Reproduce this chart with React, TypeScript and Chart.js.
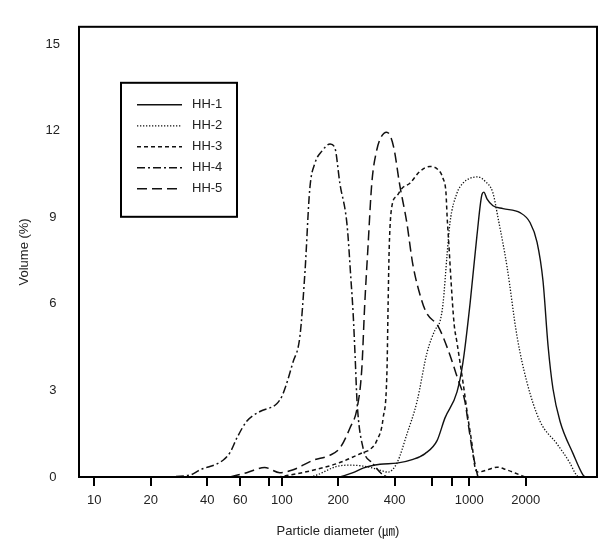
import React, { useEffect, useRef } from 'react';
import { Chart, registerables } from 'chart.js';

Chart.register(...registerables);

const SERIES_NAMES = ['HH-1', 'HH-2', 'HH-3', 'HH-4', 'HH-5'];

const HH1_X = [204, 240, 271, 334, 411, 501, 581, 673, 741, 860, 925, 1009, 1099, 1169, 1195, 1242, 1337, 1513, 1864, 2107, 2297, 2472, 2630, 2795, 3046, 3575, 4036, 4140];
const HH1_Y = [0, 0.15, 0.31, 0.44, 0.48, 0.61, 0.81, 1.26, 2.04, 2.95, 3.97, 6.0, 8.38, 9.8, 9.87, 9.64, 9.4, 9.3, 9.16, 8.82, 8.14, 6.79, 4.55, 3.05, 1.93, 0.81, 0.07, 0];

const HH2_X = [142, 154, 197, 231, 270, 306, 340, 368, 411, 465, 526, 595, 656, 698, 724, 761, 789, 860, 925, 1009, 1112, 1213, 1337, 1422, 1588, 1795, 2028, 2382, 2932, 3442, 3662, 3800];
const HH2_Y = [0, 0.07, 0.37, 0.41, 0.38, 0.31, 0.22, 0.17, 0.48, 1.49, 2.61, 4.31, 5.09, 5.4, 6.0, 7.7, 8.82, 9.84, 10.18, 10.35, 10.4, 10.25, 9.84, 8.99, 7.3, 4.89, 3.29, 1.93, 1.15, 0.48, 0.14, 0];

const HH3_X = [95, 111, 150, 204, 271, 295, 321, 347, 364, 369, 374, 387, 411, 437, 482, 545, 617, 681, 724, 751, 761, 780, 799, 830, 860, 925, 984, 1033, 1072, 1112, 1250, 1405, 1580, 1754, 1982];
const HH3_Y = [0, 0.07, 0.25, 0.5, 0.85, 0.95, 1.26, 2.04, 3.73, 6.0, 7.94, 9.4, 9.74, 10.0, 10.18, 10.59, 10.76, 10.65, 10.35, 9.84, 9.06, 7.94, 6.79, 5.3, 4.65, 3.29, 2.04, 1.15, 0.34, 0.17, 0.25, 0.34, 0.25, 0.14, 0];

const HH4_X = [22.4, 32.4, 36.5, 48.6, 53, 57.7, 65, 76.5, 94, 101, 114.6, 125, 133, 141, 150, 164, 181, 192, 204, 223, 234, 240, 246, 252, 271, 306, 347, 378];
const HH4_Y = [0, 0.07, 0.24, 0.58, 0.85, 1.36, 1.93, 2.27, 2.54, 2.85, 3.97, 4.89, 7.13, 9.98, 10.86, 11.3, 11.54, 11.4, 10.18, 8.72, 6.8, 5.7, 4.2, 2.61, 1.02, 0.47, 0.07, 0];

const HH5_X = [53, 65, 81, 97.6, 114, 147, 180, 204, 231, 252, 267, 277, 288, 302, 321, 340, 362, 380, 398, 424, 464, 500, 558, 593, 681, 770, 869, 948, 1000, 1037, 1090, 1112];
const HH5_Y = [0, 0.15, 0.33, 0.15, 0.24, 0.58, 0.75, 1.0, 1.7, 2.38, 3.73, 6.0, 7.94, 10.18, 11.33, 11.8, 11.95, 11.8, 11.33, 10.18, 8.82, 7.36, 6.11, 5.67, 5.23, 4.41, 3.39, 2.61, 1.59, 0.92, 0.24, 0];

const X_TICKS = [10, 20, 40, 60, 85, 100, 200, 400, 630, 810, 1000, 2000];
const X_LABELED = [10, 20, 40, 60, 100, 200, 400, 1000, 2000];
const Y_TICKS = [0, 3, 6, 9, 12, 15];

const FONT_FAMILY = 'Arial, "Liberation Sans", "Noto Sans CJK KR", sans-serif';

const framePlugin = {
  id: 'frame',
  afterDatasetsDraw(chart: any) {
    const { ctx, chartArea: ca } = chart;
    ctx.save();
    ctx.strokeStyle = '#000';
    ctx.lineWidth = 2;
    ctx.setLineDash([]);
    ctx.strokeRect(ca.left, ca.top, ca.right - ca.left, ca.bottom - ca.top);
    ctx.restore();
  },
};

const boxLegendPlugin = {
  id: 'boxLegend',
  afterDraw(chart: any) {
    const { ctx, chartArea: ca } = chart;
    const x0 = ca.left + 42;
    const y0 = ca.top + 56;
    const w = 116;
    const h = 134;
    ctx.save();
    ctx.fillStyle = '#fff';
    ctx.fillRect(x0, y0, w, h);
    ctx.strokeStyle = '#000';
    ctx.lineWidth = 2;
    ctx.setLineDash([]);
    ctx.strokeRect(x0, y0, w, h);
    ctx.font = '13px ' + FONT_FAMILY;
    ctx.textBaseline = 'middle';
    ctx.textAlign = 'left';
    chart.data.datasets.forEach((ds: any, i: number) => {
      const y = y0 + 22 + i * 21;
      ctx.strokeStyle = ds.borderColor;
      ctx.lineWidth = ds.borderWidth;
      ctx.setLineDash(ds.borderDash || []);
      ctx.beginPath();
      ctx.moveTo(x0 + 16, y);
      ctx.lineTo(x0 + 61, y);
      ctx.stroke();
      ctx.setLineDash([]);
      ctx.fillStyle = '#222';
      ctx.fillText(ds.label, x0 + 71, y);
    });
    ctx.restore();
  },
};

function makeDataset(label: string, xs: number[], ys: number[], dash: number[], width: number) {
  return {
    label,
    data: xs.map((x, i) => ({ x, y: ys[i] })),
    borderColor: '#111',
    borderWidth: width,
    borderDash: dash,
    pointRadius: 0,
    fill: false,
    cubicInterpolationMode: 'monotone' as const,
  };
}

export default function App() {
  const canvasRef = useRef<HTMLCanvasElement | null>(null);

  useEffect(() => {
    if (!canvasRef.current) return;
    const chart = new Chart(canvasRef.current, {
      type: 'line',
      data: {
        datasets: [
          makeDataset(SERIES_NAMES[0], HH1_X, HH1_Y, [], 1.4),
          makeDataset(SERIES_NAMES[1], HH2_X, HH2_Y, [1.3, 1.7], 1.3),
          makeDataset(SERIES_NAMES[2], HH3_X, HH3_Y, [4, 3], 1.5),
          makeDataset(SERIES_NAMES[3], HH4_X, HH4_Y, [8, 3, 2, 3], 1.5),
          makeDataset(SERIES_NAMES[4], HH5_X, HH5_Y, [10, 5], 1.5),
        ],
      },
      options: {
        animation: false,
        responsive: false,
        maintainAspectRatio: false,
        layout: { padding: { top: 17, right: 15, left: 0, bottom: 0 } },
        plugins: {
          legend: { display: false },
          tooltip: { enabled: false },
        },
        scales: {
          x: {
            type: 'logarithmic',
            min: 8.29,
            max: 4797,
            bounds: 'data',
            afterBuildTicks: (scale: any) => {
              scale.ticks = X_TICKS.map((v) => ({ value: v }));
            },
            afterFit: (scale: any) => {
              scale.height = 73;
            },
            grid: {
              display: true,
              drawOnChartArea: false,
              drawTicks: true,
              tickLength: 9,
              color: '#000',
              lineWidth: 2,
            },
            border: { display: false },
            ticks: {
              autoSkip: false,
              maxRotation: 0,
              minRotation: 0,
              padding: 7,
              color: '#222',
              font: { family: FONT_FAMILY, size: 13 },
              callback: (value: any) => (X_LABELED.includes(Number(value)) ? String(value) : ''),
            },
            title: {
              display: true,
              text: 'Particle diameter (㎛)',
              color: '#222',
              font: { family: FONT_FAMILY, size: 13 },
              padding: { top: 0, bottom: 11 },
            },
          },
          y: {
            type: 'linear',
            min: 0,
            max: 15.6,
            bounds: 'data',
            afterBuildTicks: (scale: any) => {
              scale.ticks = Y_TICKS.map((v) => ({ value: v }));
            },
            afterFit: (scale: any) => {
              scale.width = 79;
            },
            grid: { display: false, drawTicks: false },
            border: { display: false },
            ticks: {
              crossAlign: 'center',
              padding: 19,
              color: '#222',
              font: { family: FONT_FAMILY, size: 13 },
            },
            title: {
              display: true,
              text: 'Volume (%)',
              color: '#222',
              font: { family: FONT_FAMILY, size: 13 },
              padding: { top: 17, bottom: 0 },
            },
          },
        },
      },
      plugins: [framePlugin, boxLegendPlugin],
    } as any);
    return () => chart.destroy();
  }, []);

  return (
    <div style={{ position: 'absolute', left: 0, top: 0, width: 612, height: 550, background: '#fff' }}>
      <canvas ref={canvasRef} width={612} height={550} style={{ width: 612, height: 550, display: 'block' }} />
    </div>
  );
}
